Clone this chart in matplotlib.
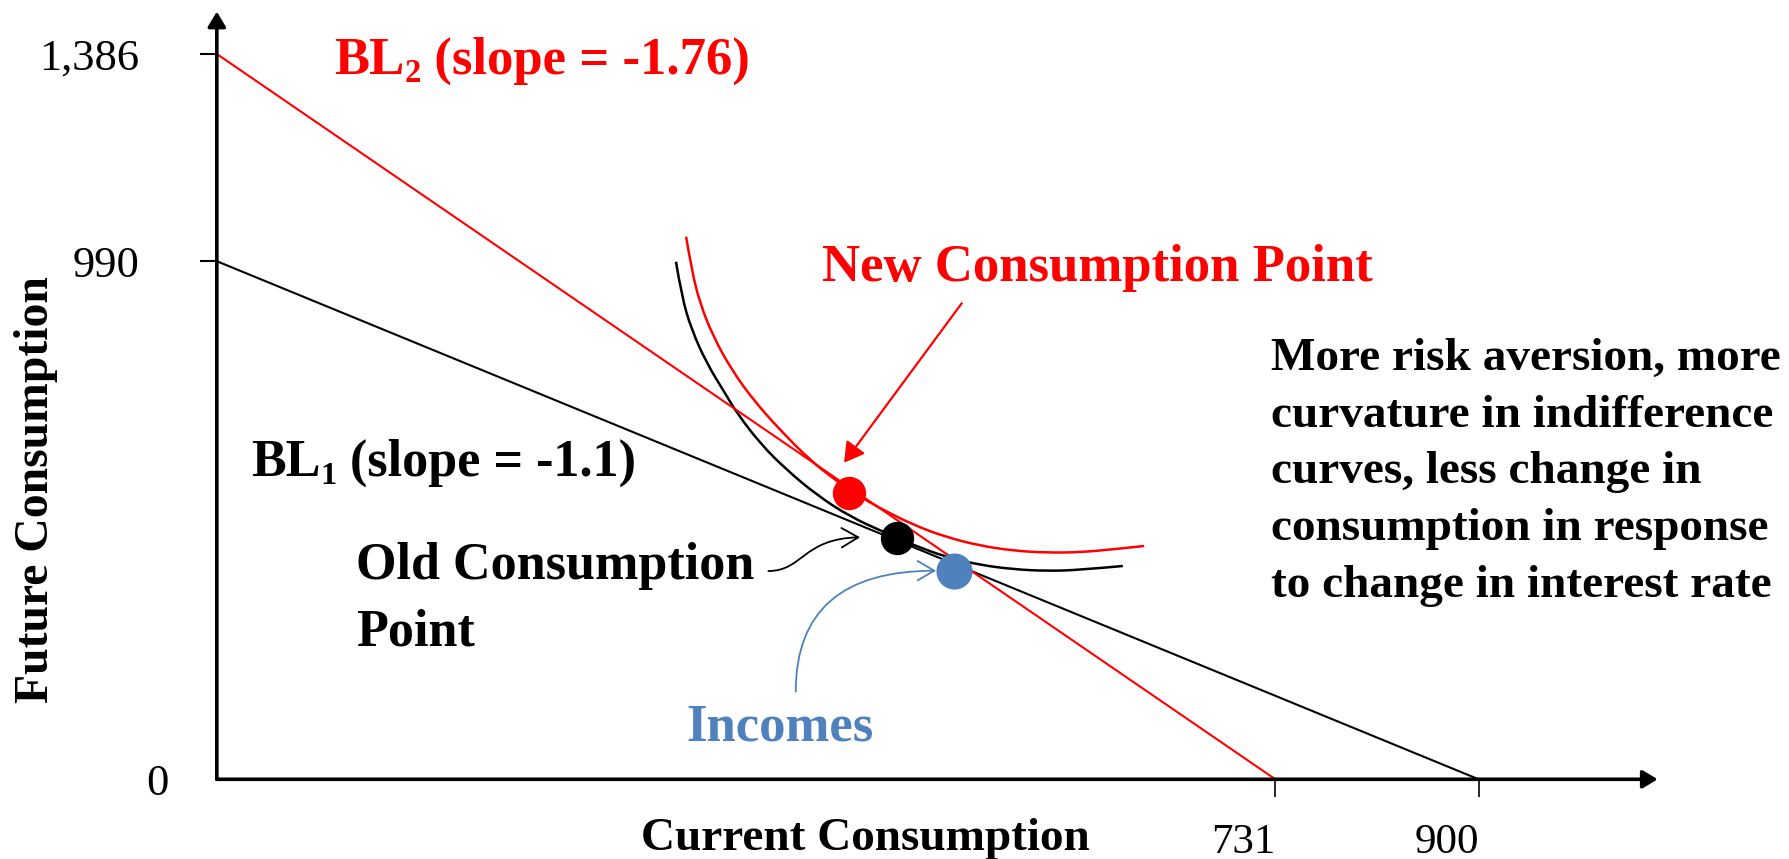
import matplotlib
matplotlib.use("Agg")
import matplotlib.pyplot as plt
from matplotlib.patches import FancyArrowPatch, PathPatch
from matplotlib.path import Path
from matplotlib.ticker import FixedLocator

plt.rcParams['font.family'] = ['Liberation Serif', 'DejaVu Serif']

RED = '#FF0000'
BLUE = '#4F81BD'

# budget lines as (x intercept, y intercept); the sketch is not to scale,
# the "731" tick sits where BL2 meets the axis
bl1_ends = (900, 990)
bl2_ends = (755, 1386)
x_tick_pos = [755, 900]
x_tick_labels = ['731', '900']
y_tick_pos = [990, 1386]
y_tick_labels = ['990', '1,386']

# indifference curves
ic_old_x = [327.5, 331.6, 338.7, 349.4, 362.5, 370.8, 387.4, 406.5, 427.9, 451.6,
            477.8, 496.8, 520.6, 544.4, 568.1, 592.0, 615.7, 646.2]
ic_old_y = [989, 922, 858.6, 795, 737.6, 700.6, 642, 591, 543.3, 501.8,
            470, 447.7, 424.2, 409.5, 401.3, 398, 400, 407.6]
ic_new_x = [334.7, 338.7, 344.6, 354.1, 367.3, 382.7, 401.7, 423.1, 441.0, 457.0,
            473.0, 496.8, 520.6, 544.4, 568.1, 592.0, 615.7, 639.5, 661.4]
ic_new_y = [1037, 973, 909.6, 845.8, 782, 724.8, 667.5, 610, 572, 543,
            518, 486, 462.4, 446.4, 436.8, 433, 433.8, 439.5, 445.8]

income_pt = (525.8, 398.6)
old_pt = (485, 461.7)
new_pt = (451.2, 547.7)

fig = plt.figure(figsize=(17.89, 8.59), dpi=100)
ax = fig.add_axes([0.1212, 0.0928, 0.8054, 0.8937])
ax.set_xlim(0, 1027.7)
ax.set_ylim(0, 1467)
for s in ax.spines.values():
    s.set_visible(False)

# axes drawn as arrows
for end in [(1, 0), (0, 1)]:
    ax.annotate('', xy=end, xytext=(0, 0), xycoords='axes fraction',
                arrowprops=dict(arrowstyle='-|>,head_length=0.5,head_width=0.3',
                                lw=2.6, color='black', mutation_scale=18,
                                shrinkA=0, shrinkB=0))

ax.set_xticks(x_tick_pos, x_tick_labels)
ax.set_yticks(y_tick_pos, y_tick_labels)
ax.yaxis.set_minor_locator(FixedLocator([0]))
ax.set_yticklabels(['0'], minor=True)
ax.tick_params(axis='x', length=13, width=1.2, pad=19, labelsize=31)
ax.tick_params(axis='y', which='major', length=12, width=1.5, pad=44, labelsize=32)
ax.tick_params(axis='y', which='minor', length=0, pad=35, labelsize=32)
for lbl in ax.get_xticklabels():
    lbl.set_ha('right')

# budget lines
ax.plot([0, bl1_ends[0]], [bl1_ends[1], 0], color='black', lw=1.5)
ax.plot([0, bl2_ends[0]], [bl2_ends[1], 0], color=RED, lw=1.5)


def smooth_curve(xs, ys, color):
    # quadratic segments through midpoints, read points act as control points
    pts = list(zip(xs, ys))
    verts = [pts[0]]
    codes = [Path.MOVETO]
    for i in range(1, len(pts) - 1):
        nxt = pts[i + 1] if i == len(pts) - 2 else (
            (pts[i][0] + pts[i + 1][0]) / 2, (pts[i][1] + pts[i + 1][1]) / 2)
        verts += [pts[i], nxt]
        codes += [Path.CURVE3, Path.CURVE3]
    ax.add_patch(PathPatch(Path(verts, codes), fill=False, edgecolor=color, lw=1.8))


smooth_curve(ic_old_x, ic_old_y, 'black')
smooth_curve(ic_new_x, ic_new_y, RED)

ax.plot(*new_pt, 'o', color=RED, ms=23, zorder=5)
ax.plot(*old_pt, 'o', color='black', ms=23, zorder=5)
ax.plot(*income_pt, 'o', color=BLUE, ms=25, zorder=5)


def bl_label(x, y, sub, rest, color, size):
    t1 = ax.text(x, y, 'BL', color=color, fontsize=size, fontweight='bold', va='baseline')
    t2 = ax.annotate(sub, xy=(1, 0), xycoords=t1, xytext=(0, -3), textcoords='offset points',
                     color=color, fontsize=size * 0.62, fontweight='bold', va='bottom')
    ax.annotate(rest, xy=(1, 0), xycoords=(t2, t1), color=color, fontsize=size,
                fontweight='bold', va='bottom')


bl_label(83.6, 1348, '2', ' (slope = -1.76)', RED, 38)
bl_label(24.4, 580, '1', ' (slope = -1.1)', 'black', 37.5)

ax.text(431.7, 952.6, 'New Consumption Point', color=RED, fontsize=38,
        fontweight='bold', va='baseline')
ax.annotate('', xy=(447.4, 605), xytext=(531.3, 909.6),
            arrowprops=dict(arrowstyle='-|>,head_length=0.6,head_width=0.35',
                            color=RED, lw=1.6, mutation_scale=20, shrinkA=0, shrinkB=0))

# va='baseline' on multi-line text pins the last line
ax.text(99.3, 256.6, 'Old Consumption\nPoint', color='black', fontsize=37.5,
        fontweight='bold', va='baseline', linespacing=1.48)
curl = Path([(393.4, 398), (418, 398), (418, 460), (458.8, 462.4)],
            [Path.MOVETO, Path.CURVE4, Path.CURVE4, Path.CURVE4])
ax.add_patch(FancyArrowPatch(path=curl, arrowstyle='->,head_length=0.6,head_width=0.35',
                             color='black', lw=1.3, mutation_scale=20))

ax.text(334.7, 73.8, 'Incomes', color=BLUE, fontsize=38, fontweight='bold', va='baseline')
ax.add_patch(FancyArrowPatch((412.9, 167.4), (513, 398.6),
                             connectionstyle='angle3,angleA=90,angleB=0',
                             arrowstyle='->,head_length=0.6,head_width=0.35',
                             color=BLUE, lw=1.3, mutation_scale=20, shrinkA=0, shrinkB=0))

ax.text(752, 348.9, 'More risk aversion, more\ncurvature in indifference\n'
        'curves, less change in\nconsumption in response\nto change in interest rate',
        color='black', fontsize=34, fontweight='bold', va='baseline', linespacing=1.46)

ax.text(-129, 553, 'Future Consumption', rotation=90, ha='center', va='center',
        fontsize=34.3, fontweight='bold')
ax.text(462.6, -135, 'Current Consumption', ha='center', va='baseline',
        fontsize=34, fontweight='bold')

fig.savefig('out.png', dpi=100)
